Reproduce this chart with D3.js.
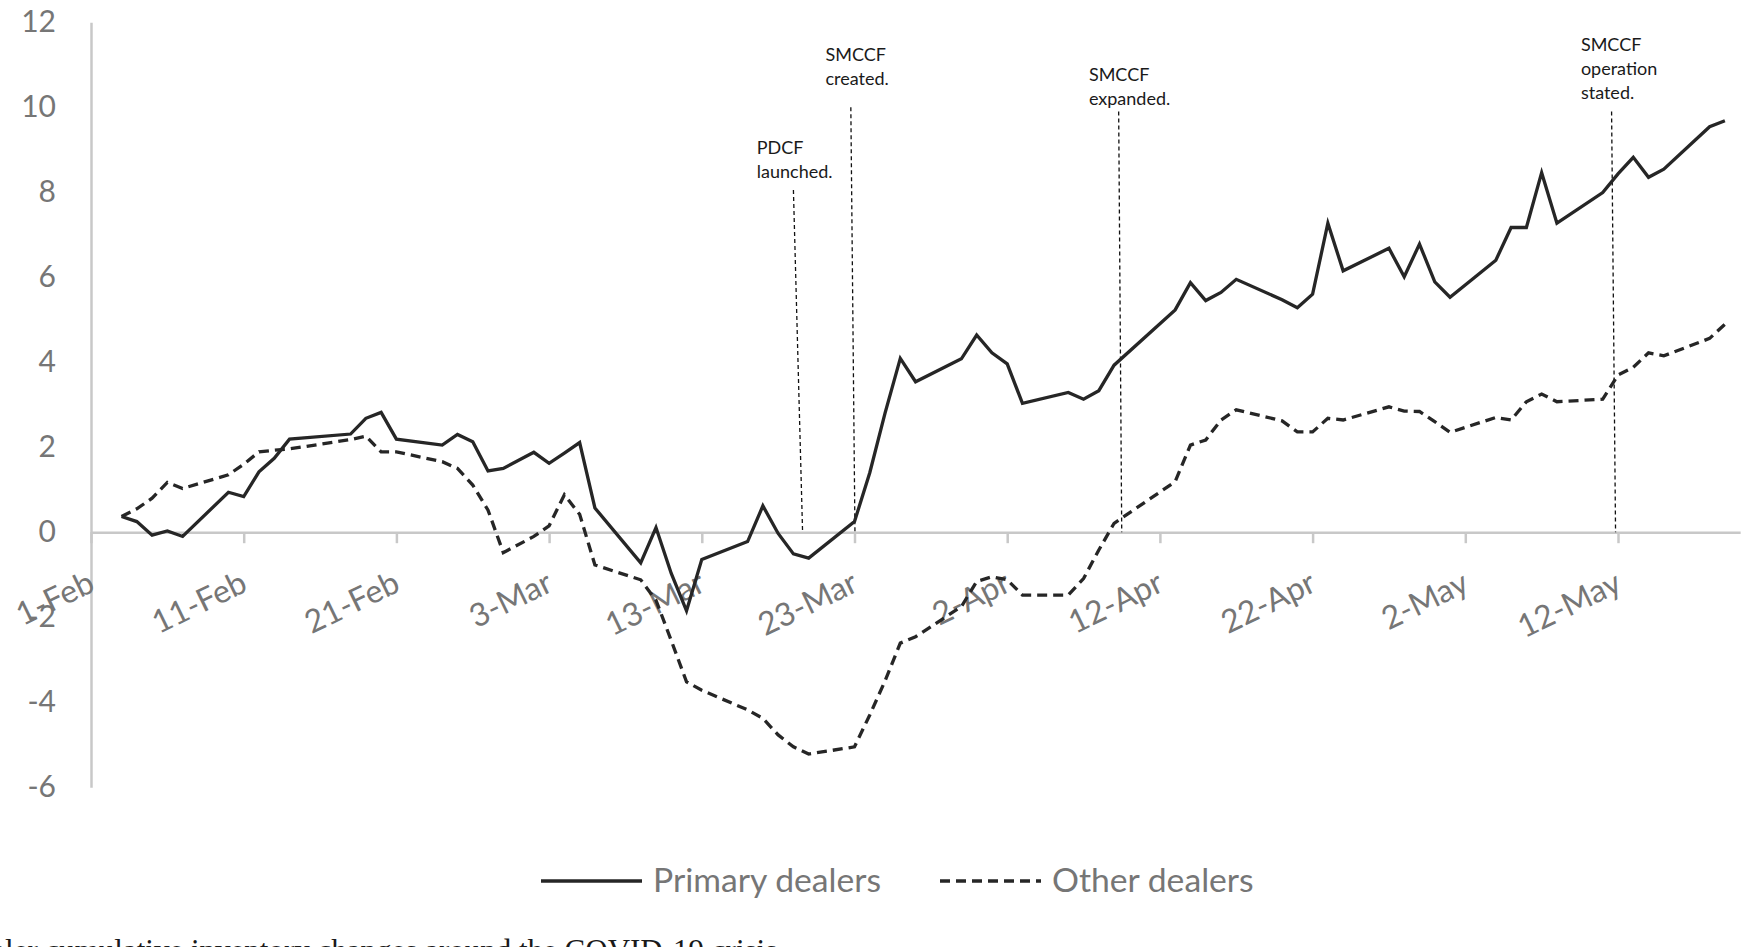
<!DOCTYPE html>
<html>
<head>
<meta charset="utf-8">
<script src="https://cdn.jsdelivr.net/npm/d3@7"></script>
<style>
    html, body { margin: 0; padding: 0; background: #fff; overflow: hidden; }
    svg { display: block; font-family: Lato, "Open Sans", sans-serif; }
</style>
</head>
<body>
<div id="chart"></div>
<script>
// business days on the chart (Excel-style "d-Mon" labels)
var dates = ["3-Feb", "4-Feb", "5-Feb", "6-Feb", "7-Feb", "10-Feb", "11-Feb", "12-Feb", "13-Feb", "14-Feb",
    "18-Feb", "19-Feb", "20-Feb", "21-Feb", "24-Feb", "25-Feb", "26-Feb", "27-Feb", "28-Feb",
    "2-Mar", "3-Mar", "4-Mar", "5-Mar", "6-Mar", "9-Mar", "10-Mar", "11-Mar", "12-Mar", "13-Mar",
    "16-Mar", "17-Mar", "18-Mar", "19-Mar", "20-Mar", "23-Mar", "24-Mar", "25-Mar", "26-Mar", "27-Mar",
    "30-Mar", "31-Mar", "1-Apr", "2-Apr", "3-Apr", "6-Apr", "7-Apr", "8-Apr", "9-Apr",
    "13-Apr", "14-Apr", "15-Apr", "16-Apr", "17-Apr", "20-Apr", "21-Apr", "22-Apr", "23-Apr", "24-Apr",
    "27-Apr", "28-Apr", "29-Apr", "30-Apr", "1-May", "4-May", "5-May", "6-May", "7-May", "8-May",
    "11-May", "12-May", "13-May", "14-May", "15-May", "18-May", "19-May"];

var primaryDealers = [0.37, 0.25, -0.07, 0.03, -0.10, 0.94, 0.84, 1.42, 1.74, 2.19,
    2.31, 2.68, 2.82, 2.19, 2.05, 2.30, 2.13, 1.44, 1.50,
    1.88, 1.62, 1.86, 2.11, 0.57, -0.72, 0.11, -0.97, -1.85, -0.64,
    -0.22, 0.62, -0.03, -0.51, -0.61, 0.25, 1.40, 2.80, 4.09, 3.54,
    4.08, 4.64, 4.22, 3.96, 3.03, 3.29, 3.13, 3.33, 3.93,
    5.23, 5.87, 5.45, 5.64, 5.95, 5.47, 5.28, 5.60, 7.27, 6.15,
    6.68, 6.01, 6.78, 5.89, 5.53, 6.40, 7.17, 7.17, 8.46, 7.27,
    7.99, 8.43, 8.82, 8.35, 8.54, 9.54, 9.68];

var otherDealers = [0.37, 0.55, 0.80, 1.17, 1.03, 1.35, 1.60, 1.89, 1.93, 1.96,
    2.18, 2.26, 1.89, 1.89, 1.66, 1.50, 1.11, 0.52, -0.48,
    -0.10, 0.15, 0.88, 0.42, -0.77, -1.12, -1.60, -2.55, -3.52, -3.72,
    -4.18, -4.38, -4.77, -5.05, -5.22, -5.05, -4.30, -3.50, -2.61, -2.46,
    -1.75, -1.16, -1.05, -1.12, -1.48, -1.48, -1.09, -0.42, 0.21,
    1.19, 2.05, 2.17, 2.64, 2.88, 2.62, 2.36, 2.36, 2.68, 2.64,
    2.95, 2.85, 2.84, 2.60, 2.35, 2.70, 2.64, 3.07, 3.25, 3.07,
    3.13, 3.70, 3.88, 4.22, 4.15, 4.56, 4.89];

var seriesNames = ["Primary dealers", "Other dealers"];
var yTicks = [12, 10, 8, 6, 4, 2, 0, -2, -4, -6];
var xTickLabels = ["1-Feb", "11-Feb", "21-Feb", "3-Mar", "13-Mar", "23-Mar", "2-Apr", "12-Apr", "22-Apr", "2-May", "12-May"];

// policy events: dashed markers (days after 1-Feb, value at top of marker)
var eventText = [["PDCF", "launched."], ["SMCCF", "created."], ["SMCCF", "expanded."], ["SMCCF", "operation", "stated."]];
var eventDayTop = [46.0, 49.76, 67.3, 99.58];
var eventDayBottom = [46.6, 50.03, 67.5, 99.84];
var eventTop = [8.05, 10.0, 9.9, 9.9];
var eventLabelDay = [43.6, 48.1, 65.35, 97.57];
var eventLabelTop = [8.89, 11.09, 10.62, 11.32];

var caption = "Dealer cumulative inventory changes around the COVID-19 crisis.";

var width = 1742, height = 947;
var gray = "#767676", axisGray = "#c8c8c8", ink = "#262626";

var parseDay = d3.timeParse("%d-%b");   // year 1900: no 29-Feb, like the original axis
var day0 = parseDay("1-Feb");
function dayOf(s) { return d3.timeDay.count(day0, parseDay(s)); }

var x = d3.scaleLinear().domain([0, 108]).range([91, 91 + 108 * 15.27]);
var y = d3.scaleLinear().domain([-6, 12]).range([787.2, 22.2]);

var svg = d3.select("#chart")
    .append("svg")
    .attr("width", width)
    .attr("height", height);

// y axis
var yAxis = svg.append("g")
    .attr("transform", "translate(" + x(0) + ",0)")
    .call(d3.axisLeft(y).tickValues(yTicks).tickSize(0).tickPadding(35).tickFormat(function (d) { return String(d); }));
yAxis.select(".domain").attr("stroke", axisGray).attr("stroke-width", 2.5);
yAxis.selectAll("text")
    .attr("fill", gray)
    .style("font-size", "30px")
    .style("font-family", "Lato, sans-serif");

// x axis on the zero line
var xAxis = svg.append("g")
    .attr("transform", "translate(0," + y(0) + ")")
    .call(d3.axisBottom(x)
        .tickValues(xTickLabels.map(dayOf))
        .tickSize(11)
        .tickSizeOuter(0)
        .tickFormat(function (d, i) { return xTickLabels[i]; }));
xAxis.select(".domain").attr("stroke", axisGray).attr("stroke-width", 2.5);
xAxis.selectAll(".tick line").attr("stroke", axisGray).attr("stroke-width", 2.5);
xAxis.selectAll("text")
    .attr("fill", gray)
    .attr("y", 0)
    .attr("dy", 0)
    .attr("text-anchor", "end")
    .attr("transform", "translate(5,58) rotate(-26)")
    .style("font-size", "32px")
    .style("font-family", "Lato, sans-serif");

// event markers
var ev = svg.append("g").attr("class", "events");
eventText.forEach(function (lines, i) {
    ev.append("line")
        .attr("x1", x(eventDayTop[i]))
        .attr("y1", y(eventTop[i]))
        .attr("x2", x(eventDayBottom[i]))
        .attr("y2", y(0))
        .attr("stroke", "#111")
        .attr("stroke-width", 1.3)
        .attr("stroke-dasharray", "4,3");

    var t = ev.append("text")
        .attr("x", x(eventLabelDay[i]))
        .attr("y", y(eventLabelTop[i]))
        .attr("fill", "#1a1a1a")
        .style("font-size", "18px");
    lines.forEach(function (s, j) {
        t.append("tspan")
            .attr("x", x(eventLabelDay[i]))
            .attr("dy", j == 0 ? 0 : 24)
            .text(s);
    });
});

// series
var days = dates.map(dayOf);
var line = d3.line()
    .x(function (d) { return x(d[0]); })
    .y(function (d) { return y(d[1]); });

svg.append("path")
    .datum(d3.zip(days, otherDealers))
    .attr("d", line)
    .attr("fill", "none")
    .attr("stroke", ink)
    .attr("stroke-width", 3.3)
    .attr("stroke-dasharray", "10,6");

svg.append("path")
    .datum(d3.zip(days, primaryDealers))
    .attr("d", line)
    .attr("fill", "none")
    .attr("stroke", ink)
    .attr("stroke-width", 3.3)
    .attr("stroke-linejoin", "miter");

// legend
var legend = svg.append("g").attr("transform", "translate(541,881)");
var legendX = [0, 399];
seriesNames.forEach(function (name, i) {
    legend.append("line")
        .attr("x1", legendX[i])
        .attr("x2", legendX[i] + 101)
        .attr("y1", 0)
        .attr("y2", 0)
        .attr("stroke", ink)
        .attr("stroke-width", 3.6)
        .attr("stroke-dasharray", i == 1 ? "10,6" : null);
    legend.append("text")
        .attr("x", legendX[i] + 112)
        .attr("y", 11)
        .attr("fill", gray)
        .style("font-size", "33.7px")
        .text(name);
});

// figure caption, cut by the bottom edge as in the source
svg.append("text")
    .attr("x", 785)
    .attr("y", 961)
    .attr("text-anchor", "end")
    .attr("fill", "#1a1a1a")
    .style("font-family", "'Liberation Serif', serif")
    .style("font-size", "31px")
    .text(caption);
</script>
</body>
</html>
